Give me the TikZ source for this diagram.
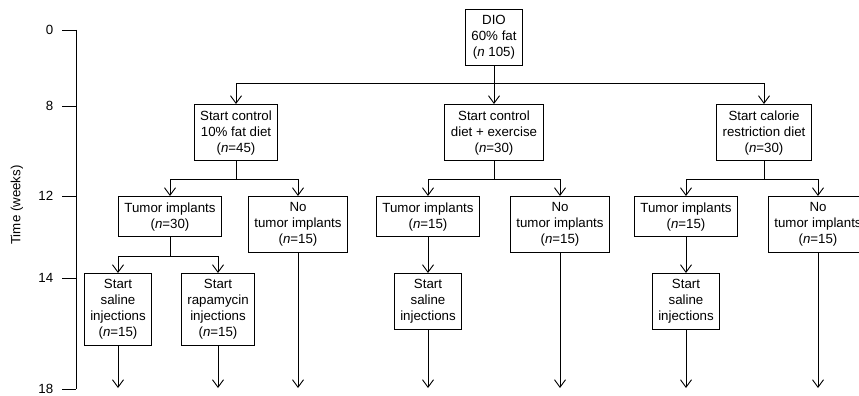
\documentclass[tikz,border=0pt]{standalone}
\usepackage{fontspec}
\setmainfont{Liberation Sans}
\usetikzlibrary{arrows.meta}
\begin{document}
\begin{tikzpicture}[x=1pt,y=-1pt,line width=.9pt,font=\fontsize{13.3}{16}\selectfont,
  box/.style={draw,align=center,anchor=north,inner xsep=6pt,inner ysep=6pt},
  arr/.style={-{Straight Barb[length=7.5pt,width=11pt]}}]
 \useasboundingbox (0,0) rectangle (859,396);
 % time axis
 \draw (76,30)--(76,389);
 \foreach \t/\y in {0/30,8/106,12/196,14/278,18/389}
  \draw (62,\y)--(76,\y) node[pos=0,left=5pt] {\t};
 \node[rotate=90] (tlabel) at (17,205) {Time (weeks)};
 \coordinate (end) at (0,388);
 % boxes
 \node[box] (dio) at (494,9) {DIO\\60\% fat\\(\textit{n} 105)};
 \node[box] (ctrl) at (236,104) {Start control\\10\% fat diet\\(\textit{n}=45)};
 \node[box] (exer) at (494,104) {Start control\\diet + exercise\\(\textit{n}=30)};
 \node[box] (cal) at (764,104) {Start calorie\\restriction diet\\(\textit{n}=30)};
 \node[box] (tumA) at (170,196) {Tumor implants\\(\textit{n}=30)};
 \node[box] (notA) at (298,196) {No\\tumor implants\\(\textit{n}=15)};
 \node[box] (tumB) at (428,196) {Tumor implants\\(\textit{n}=15)};
 \node[box] (notB) at (560,196) {No\\tumor implants\\(\textit{n}=15)};
 \node[box] (tumC) at (686,196) {Tumor implants\\(\textit{n}=15)};
 \node[box] (notC) at (818,196) {No\\tumor implants\\(\textit{n}=15)};
 \node[box] (salA) at (118,273) {Start\\saline\\injections\\(\textit{n}=15)};
 \node[box] (rapA) at (218,273) {Start\\rapamycin\\injections\\(\textit{n}=15)};
 \node[box] (salB) at (428,273) {Start\\saline\\injections};
 \node[box] (salC) at (686,273) {Start\\saline\\injections};
 % connectors
 \draw[arr] (dio.south)--(exer.north);
 \draw[arr] (dio.south)--++(0,18)-|(ctrl.north);
 \draw[arr] (dio.south)--++(0,18)-|(cal.north);
 \draw[arr] (ctrl.south)--++(0,18)-|(tumA.north);
 \draw[arr] (ctrl.south)--++(0,18)-|(notA.north);
 \draw[arr] (exer.south)--++(0,18)-|(tumB.north);
 \draw[arr] (exer.south)--++(0,18)-|(notB.north);
 \draw[arr] (cal.south)--++(0,18)-|(tumC.north);
 \draw[arr] (cal.south)--++(0,18)-|(notC.north);
 \draw[arr] (tumA.south)--++(0,19)-|(salA.north);
 \draw[arr] (tumA.south)--++(0,19)-|(rapA.north);
 \draw[arr] (tumB.south)--(salB.north);
 \draw[arr] (tumC.south)--(salC.north);
 % to week 18
 \foreach \n in {salA,rapA,notA,salB,notB,salC,notC}
  \draw[arr] (\n.south)--(\n.south|-end);
\end{tikzpicture}
\end{document}
